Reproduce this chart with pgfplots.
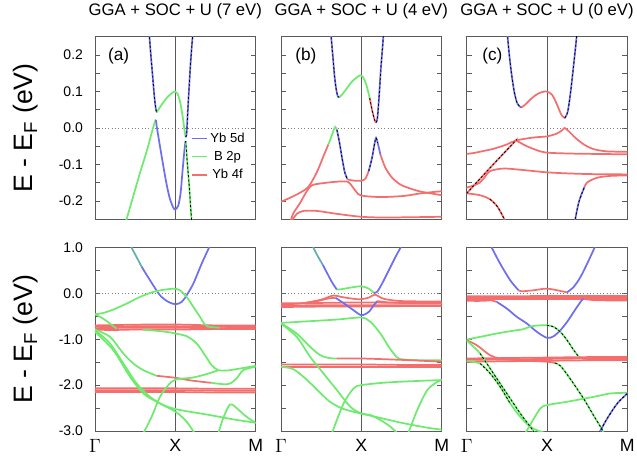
\documentclass[border=0pt]{standalone}
\usepackage{pgfplots}
\pgfplotsset{compat=1.18}
\usepackage{fontspec}
\setmainfont{Liberation Sans}
\definecolor{ybd}{RGB}{110,110,240}
\definecolor{bp}{RGB}{110,235,110}
\definecolor{ybf}{RGB}{245,110,110}
\definecolor{tl}{RGB}{100,175,175}
\definecolor{frm}{RGB}{90,90,90}
\tikzset{plab/.style={font=\fontsize{12.9}{15}\selectfont, anchor=west, inner sep=0pt}}
\pgfplotsset{
  band/.style={line width=1.3pt, smooth, forget plot},
  bD/.style={band, draw=ybd},
  bP/.style={band, draw=bp},
  bF/.style={band, draw=ybf},
  bT/.style={band, draw=tl},
  bK/.style={black, line width=0.6pt, dash pattern=on 1.6pt off 1.6pt, smooth, forget plot},
  refx/.style={draw=frm, line width=0.7pt, forget plot},
  refy/.style={draw=gray, line width=0.5pt, dotted, forget plot},
  panel/.style={scale only axis, width=120.5pt, xmin=0, xmax=2, anchor=north west,
    axis line style={draw=frm, line width=0.7pt},
    xtick=\empty, ytick pos=both, tick align=inside,
    major tick length=3.75pt, minor tick length=3.75pt,
    every tick/.style={draw=frm, line width=0.6pt},
    yticklabel style={font=\fontsize{10.5}{12}\selectfont, xshift=-5.5pt,
      /pgf/number format/fixed, /pgf/number format/fixed zerofill,
      /pgf/number format/precision=1, /pgf/number format/assume math mode=true},
    ylabel style={font=\fontsize{20}{22}\selectfont, at={(axis description cs:-0.429,0.5)}, anchor=center},
  },
  top/.style={panel, height=137pt, ymin=-0.25, ymax=0.25,
    ytick={-0.2,-0.1,0,0.1,0.2}, minor ytick={-0.15,-0.05,0.05,0.15},
    title style={font=\fontsize{12.5}{14}\selectfont, at={(0.5,1)}, anchor=center, yshift=13pt}},
  bot/.style={panel, height=137.8pt, ymin=-3, ymax=1,
    ytick={-3,-2,-1,0,1}, minor ytick={-2.5,-1.5,-0.5,0.5},
    xtick={0,1,2}, xticklabels={$\Gamma$,X,M}, xtick style={draw=none},
    xticklabel style={font=\fontsize{13.3}{15}\selectfont, yshift=-2.8pt}},
}
\begin{document}
\begin{tikzpicture}
\path[use as bounding box] (0,0) rectangle (477.75pt,-345pt);

% ---------- top (a): U = 7 eV
\begin{axis}[top, at={(71.25pt,-27.5pt)}, title={GGA + SOC + U (7 eV)},
  ylabel={E - E\textsubscript{F} (eV)},
  legend style={at={(0.6,0.49)}, anchor=north west, draw=none, fill=none,
    font=\fontsize{9.8}{11}\selectfont, row sep=1.2pt, inner sep=0pt},
  legend image code/.code={\draw[#1, line width=1.1pt] (0pt,0pt) -- (11pt,0pt);}]
\addplot[refy] coordinates {(0,0) (2,0)};
\addplot[refx] coordinates {(1,-0.25) (1,0.25)};
\addplot[bP] coordinates {(0.38,-0.26) (0.477,-0.186) (0.560,-0.123) (0.643,-0.064) (0.705,-0.014) (0.747,0.018) (0.76,0.022)};
\addplot[bD] coordinates {(0.76,0.022) (0.768,0.005) (0.809,-0.05) (0.851,-0.105) (0.892,-0.155) (0.934,-0.195) (0.975,-0.218) (1.0,-0.223) (1.037,-0.212) (1.066,-0.177) (1.091,-0.114) (1.112,-0.064) (1.126,-0.036)};
\addplot[bP] coordinates {(1.126,-0.036) (1.133,-0.045) (1.149,-0.095) (1.170,-0.15) (1.187,-0.205) (1.205,-0.26)};
\addplot[bD] coordinates {(0.674,0.26) (0.697,0.195) (0.718,0.141) (0.739,0.086) (0.759,0.05) (0.772,0.043)};
\addplot[bP] coordinates {(0.772,0.043) (0.788,0.05) (0.830,0.064) (0.892,0.082) (0.954,0.095) (0.996,0.1) (1.025,0.095) (1.058,0.073) (1.091,0.032) (1.116,-0.009) (1.129,-0.025)};
\addplot[bD] coordinates {(1.129,-0.025) (1.141,-0.014) (1.154,0.041) (1.170,0.105) (1.187,0.168) (1.203,0.218) (1.219,0.26)};
\addplot[bK] coordinates {(0.674,0.26) (0.697,0.195) (0.718,0.141) (0.739,0.086) (0.759,0.05) (0.772,0.043)};
\addplot[bK] coordinates {(1.129,-0.025) (1.141,-0.014) (1.154,0.041) (1.170,0.105) (1.187,0.168) (1.203,0.218) (1.219,0.26)};
\addplot[bK] coordinates {(1.126,-0.036) (1.133,-0.045) (1.149,-0.095) (1.170,-0.15) (1.187,-0.205) (1.205,-0.26)};
\addlegendimage{draw=ybd}\addlegendentry{Yb 5d}
\addlegendimage{draw=bp}\addlegendentry{B 2p}
\addlegendimage{draw=ybf}\addlegendentry{Yb 4f}
\node[plab] at (rel axis cs:0.08,0.894) {(a)};
\end{axis}

% ---------- top (b): U = 4 eV
\begin{axis}[top, at={(210.75pt,-27.5pt)}, title={GGA + SOC + U (4 eV)}, yticklabels={}]
\addplot[refy] coordinates {(0,0) (2,0)};
\addplot[refx] coordinates {(1,-0.25) (1,0.25)};
\addplot[bD] coordinates {(0.62,0.26) (0.646,0.195) (0.667,0.141) (0.688,0.105) (0.708,0.086) (0.725,0.084)};
\addplot[bP] coordinates {(0.725,0.084) (0.758,0.091) (0.821,0.109) (0.883,0.127) (0.946,0.139) (0.988,0.144) (1.021,0.139) (1.063,0.118) (1.104,0.082)};
\addplot[bF] coordinates {(1.104,0.082) (1.138,0.045) (1.167,0.021) (1.183,0.015)};
\addplot[bD] coordinates {(1.183,0.015) (1.2,0.027) (1.221,0.086) (1.242,0.159) (1.263,0.218) (1.277,0.26)};
\addplot[bF] coordinates {(0,-0.202) (0.113,-0.191) (0.238,-0.177) (0.342,-0.161) (0.446,-0.121) (0.529,-0.077) (0.59,-0.045)};
\addplot[bP] coordinates {(0.59,-0.045) (0.613,-0.032) (0.654,-0.007) (0.675,0.003) (0.696,-0.005)};
\addplot[bD] coordinates {(0.696,-0.005) (0.729,-0.041) (0.763,-0.086) (0.796,-0.123) (0.829,-0.141)};
\addplot[bF] coordinates {(0.829,-0.141) (0.904,-0.144) (1.0,-0.144) (1.05,-0.139) (1.092,-0.118)};
\addplot[bD] coordinates {(1.092,-0.118) (1.133,-0.082) (1.163,-0.045) (1.183,-0.027) (1.204,-0.041) (1.238,-0.073)};
\addplot[bF] coordinates {(1.238,-0.073) (1.3,-0.109) (1.383,-0.136) (1.488,-0.155) (1.613,-0.166) (1.738,-0.174) (1.863,-0.179) (2,-0.184)};
\addplot[bF] coordinates {(0.115,-0.26) (0.15,-0.235) (0.238,-0.205) (0.321,-0.173) (0.383,-0.157) (0.488,-0.152) (0.696,-0.147) (0.829,-0.147) (0.883,-0.159) (0.938,-0.175) (1.0,-0.185) (1.238,-0.189) (1.529,-0.186) (1.738,-0.179) (2,-0.173)};
\addplot[bF] coordinates {(0.12,-0.26) (0.16,-0.245) (0.196,-0.235) (0.279,-0.227) (0.446,-0.227) (0.696,-0.235) (1.0,-0.243) (1.321,-0.245) (2,-0.243)};
\addplot[bK] coordinates {(0.62,0.26) (0.646,0.195) (0.667,0.141) (0.688,0.105) (0.708,0.086) (0.725,0.084)};
\addplot[bK] coordinates {(1.104,0.082) (1.138,0.045) (1.167,0.021) (1.183,0.015)};
\addplot[bK] coordinates {(1.183,0.015) (1.2,0.027) (1.221,0.086) (1.242,0.159) (1.263,0.218) (1.277,0.26)};
\addplot[bK] coordinates {(0.696,-0.005) (0.729,-0.041) (0.763,-0.086) (0.796,-0.123) (0.829,-0.141)};
\addplot[bK] coordinates {(1.092,-0.118) (1.133,-0.082) (1.163,-0.045) (1.183,-0.027) (1.204,-0.041)};
\node[plab] at (rel axis cs:0.0875,0.894) {(b)};
\end{axis}

% ---------- top (c): U = 0 eV
\begin{axis}[top, at={(350pt,-27.5pt)}, title={GGA + SOC + U (0 eV)}, yticklabels={}]
\addplot[refy] coordinates {(0,0) (2,0)};
\addplot[refx] coordinates {(1,-0.25) (1,0.25)};
\addplot[bD] coordinates {(0.505,0.26) (0.533,0.195) (0.563,0.141) (0.596,0.095) (0.633,0.066) (0.679,0.056)};
\addplot[bF] coordinates {(0.679,0.056) (0.729,0.064) (0.813,0.082) (0.896,0.095) (0.992,0.1) (1.063,0.091) (1.125,0.064) (1.179,0.036) (1.221,0.027)};
\addplot[bD] coordinates {(1.221,0.027) (1.258,0.045) (1.292,0.095) (1.325,0.159) (1.354,0.218) (1.373,0.26)};
\addplot[bF] coordinates {(0,-0.071) (0.1,-0.068) (0.208,-0.063) (0.333,-0.057) (0.5,-0.045) (0.616,-0.034) (0.833,-0.026) (1.0,-0.023) (1.125,-0.015) (1.188,-0.006) (1.221,0.0) (1.271,-0.009) (1.354,-0.027) (1.458,-0.045) (1.583,-0.058) (1.75,-0.064) (2,-0.065)};
\addplot[bF] coordinates {(0,-0.179) (0.15,-0.143) (0.3,-0.107) (0.45,-0.072) (0.6,-0.037) (0.616,-0.034)};
\addplot[bF] coordinates {(0.616,-0.034) (0.68,-0.042) (0.75,-0.05) (0.916,-0.064) (1.04,-0.068) (1.3,-0.07) (1.6,-0.071) (2,-0.072)};
\addplot[bF] coordinates {(0,-0.163) (0.08,-0.158) (0.166,-0.149) (0.23,-0.133) (0.29,-0.118) (0.458,-0.111) (0.7,-0.115) (1.04,-0.122) (1.5,-0.126) (2,-0.127)};
\addplot[bF] coordinates {(0,-0.179) (0.166,-0.184) (0.29,-0.195) (0.375,-0.213) (0.4375,-0.236) (0.49,-0.26)};
\addplot[bD] coordinates {(1.35,-0.26) (1.354,-0.247) (1.395,-0.204) (1.4375,-0.177) (1.47,-0.16)};
\addplot[bF] coordinates {(1.47,-0.16) (1.5,-0.149) (1.625,-0.136) (1.8,-0.131) (2,-0.13)};
\addplot[bK] coordinates {(0.505,0.26) (0.533,0.195) (0.563,0.141) (0.596,0.095) (0.633,0.066) (0.679,0.056)};
\addplot[bK] coordinates {(1.221,0.027) (1.258,0.045) (1.292,0.095) (1.325,0.159) (1.354,0.218) (1.373,0.26)};
\addplot[bK] coordinates {(0,-0.179) (0.15,-0.143) (0.3,-0.107) (0.45,-0.072) (0.6,-0.037) (0.616,-0.034)};
\addplot[bK] coordinates {(0.29,-0.195) (0.375,-0.213) (0.4375,-0.236) (0.49,-0.26)};
\addplot[bK] coordinates {(1.35,-0.26) (1.354,-0.247) (1.395,-0.204) (1.4375,-0.177) (1.47,-0.16)};
\node[plab] at (rel axis cs:0.096,0.894) {(c)};
\end{axis}

% ---------- bottom (a)
\begin{axis}[bot, at={(71.25pt,-185.5pt)}, ylabel={E - E\textsubscript{F} (eV)}]
\addplot[refy] coordinates {(0,0) (2,0)};
\addplot[refx] coordinates {(1,-3) (1,1)};
\addplot[bF] coordinates {(0,-0.70) (0.3,-0.69) (0.7,-0.68) (1,-0.68) (1.5,-0.70) (2,-0.70)};
\addplot[bF] coordinates {(0,-0.73) (0.5,-0.72) (1,-0.72) (1.5,-0.73) (2,-0.72)};
\addplot[bF] coordinates {(0,-0.76) (0.5,-0.75) (1,-0.75) (1.5,-0.76) (2,-0.75)};
\addplot[bF] coordinates {(0,-0.79) (0.2,-0.80) (0.5,-0.79) (1,-0.79) (1.5,-0.78) (2,-0.78)};
\addplot[bF] coordinates {(0,-2.07) (0.5,-2.07) (1,-2.07) (1.5,-2.08) (2,-2.08)};
\addplot[bF] coordinates {(0,-2.11) (0.5,-2.11) (1,-2.11) (1.5,-2.12) (2,-2.12)};
\addplot[bF] coordinates {(0,-2.15) (0.5,-2.15) (1,-2.15) (1.5,-2.16) (2,-2.16)};
\addplot[bT] coordinates {(0.45,1.05) (0.456,0.993) (0.52,0.78) (0.58,0.58)};
\addplot[bD] coordinates {(0.58,0.58) (0.685,0.283) (0.809,-0.043) (0.913,-0.188) (1.004,-0.239) (1.079,-0.188) (1.141,-0.043) (1.224,0.21) (1.328,0.645) (1.419,0.993) (1.43,1.05)};
\addplot[bP] coordinates {(0,-0.457) (0.104,-0.428) (0.228,-0.355) (0.394,-0.225) (0.56,-0.08) (0.726,0.029) (0.871,0.08) (1.004,0.101) (1.058,0.065) (1.141,-0.08) (1.224,-0.297) (1.307,-0.514) (1.369,-0.681) (1.43,-0.73) (1.55,-0.75)};
\addplot[bP] coordinates {(0,-0.457) (0.1,-0.55) (0.2,-0.68) (0.27,-0.77)};
\addplot[bP] coordinates {(0,-0.79) (0.187,-0.949) (0.353,-1.312) (0.477,-1.529) (0.602,-1.674) (0.768,-1.797)};
\addplot[bF] coordinates {(0.768,-1.797) (1.004,-1.841) (1.2,-1.90) (1.45,-1.95)};
\addplot[bP] coordinates {(1.45,-1.95) (1.60,-1.98) (1.68,-1.965) (1.763,-1.855) (1.846,-1.674) (2,-1.60)};
\addplot[bP] coordinates {(0.6,-0.80) (0.685,-0.804) (0.892,-0.841) (1.004,-0.877) (1.141,-0.935) (1.266,-1.094) (1.369,-1.348) (1.452,-1.565) (1.535,-1.674) (1.65,-1.68) (1.8,-1.64) (2,-1.58)};
\addplot[bP] coordinates {(0.602,-3.05) (0.705,-2.688) (0.809,-2.254) (0.913,-2.0) (1.004,-1.877) (1.2,-1.84) (1.35,-1.78) (1.494,-1.70) (1.535,-1.674)};
\addplot[bP] coordinates {(0,-0.804) (0.187,-1.094) (0.353,-1.529) (0.519,-1.964) (0.685,-2.254) (0.851,-2.435) (1.004,-2.522) (1.183,-2.58) (1.432,-2.652) (1.722,-2.746) (2,-2.819)};
\addplot[bP] coordinates {(0,-0.841) (0.228,-1.239) (0.436,-1.819) (0.602,-2.181) (0.768,-2.362) (1.004,-2.58) (1.141,-2.797) (1.24,-3.05)};
\addplot[bP] coordinates {(1.535,-3.05) (1.6,-2.7) (1.68,-2.42) (1.75,-2.48) (1.88,-2.68) (2,-2.82)};
\end{axis}

% ---------- bottom (b)
\begin{axis}[bot, at={(210.75pt,-185.5pt)}, yticklabels={}]
\addplot[refy] coordinates {(0,0) (2,0)};
\addplot[refx] coordinates {(1,-3) (1,1)};
\addplot[bF] coordinates {(0,-0.22) (0.5,-0.21) (1,-0.20) (1.5,-0.21) (2,-0.22)};
\addplot[bF] coordinates {(0,-0.27) (0.5,-0.26) (1,-0.26) (1.5,-0.26) (2,-0.26)};
\addplot[bF] coordinates {(0,-0.30) (0.5,-0.29) (1,-0.29) (1.5,-0.28) (2,-0.28)};
\addplot[bF] coordinates {(0.3,-0.21) (0.5,-0.14) (0.65,-0.05) (0.75,-0.08) (0.9,-0.12) (1.0,-0.13) (1.1,-0.09) (1.17,-0.03) (1.28,-0.12) (1.5,-0.17) (2,-0.18)};
\addplot[bF] coordinates {(0,-1.55) (0.5,-1.55) (1,-1.55) (1.5,-1.56) (2,-1.56)};
\addplot[bF] coordinates {(0,-1.60) (0.5,-1.60) (1,-1.60) (1.5,-1.60) (2,-1.60)};
\addplot[bT] coordinates {(0.40,1.05) (0.404,0.993) (0.46,0.80) (0.52,0.62)};
\addplot[bD] coordinates {(0.52,0.62) (0.633,0.246) (0.696,0.08)};
\addplot[bP] coordinates {(0.696,0.08) (0.758,0.09) (0.863,0.123) (1.0,0.152) (1.092,0.101) (1.154,0.01)};
\addplot[bD] coordinates {(1.154,0.01) (1.196,0.029) (1.258,0.21) (1.342,0.5) (1.425,0.79) (1.488,0.993) (1.50,1.05)};
\addplot[bF] coordinates {(0,-0.25) (0.25,-0.22) (0.45,-0.17) (0.6,-0.11) (0.68,-0.1)};
\addplot[bD] coordinates {(0.68,-0.1) (0.8,-0.239) (0.904,-0.37) (1.0,-0.478) (1.092,-0.406) (1.154,-0.261) (1.2,-0.17)};
\addplot[bF] coordinates {(1.2,-0.17) (1.35,-0.20) (1.6,-0.21) (2,-0.21)};
\addplot[bP] coordinates {(0,-0.645) (0.279,-0.616) (0.696,-0.572) (1.0,-0.529) (1.113,-0.623) (1.238,-0.877) (1.342,-1.167) (1.446,-1.399) (1.529,-1.442) (1.738,-1.457) (2,-1.457)};
\addplot[bP] coordinates {(0,-0.65) (0.196,-0.877) (0.363,-1.167) (0.488,-1.348) (0.6,-1.41) (0.696,-1.42)};
\addplot[bF] coordinates {(0.696,-1.42) (1.0,-1.42) (1.5,-1.45) (2,-1.49)};
\addplot[bP] coordinates {(0,-0.66) (0.196,-0.949) (0.363,-1.384) (0.529,-1.746) (0.696,-2.109) (0.863,-2.471) (1.0,-2.616) (1.113,-2.652) (1.238,-2.761) (1.363,-2.906) (1.45,-3.05)};
\addplot[bP] coordinates {(0,-1.60) (0.15,-1.65) (0.3,-1.85) (0.45,-2.1) (0.6,-2.35) (0.75,-2.5) (0.9,-2.58) (1.0,-2.62) (1.2,-2.70) (1.5,-2.82) (1.8,-2.92) (2,-2.97)};
\addplot[bP] coordinates {(0.633,-3.05) (0.779,-2.399) (0.904,-2.072) (1.0,-2.0) (1.321,-1.942) (1.738,-1.906) (2,-1.891)};
\addplot[bP] coordinates {(1.583,-3.05) (1.696,-2.543) (1.821,-2.109) (1.946,-1.928) (2,-1.891)};
\end{axis}

% ---------- bottom (c)
\begin{axis}[bot, at={(350pt,-185.5pt)}, yticklabels={}]
\addplot[refy] coordinates {(0,0) (2,0)};
\addplot[refx] coordinates {(1,-3) (1,1)};
\addplot[bF] coordinates {(0,-0.065) (0.5,-0.065) (1,-0.06) (1.5,-0.06) (2,-0.06)};
\addplot[bF] coordinates {(0,-0.10) (0.5,-0.10) (1,-0.095) (1.5,-0.095) (2,-0.095)};
\addplot[bF] coordinates {(0,-0.13) (0.5,-0.13) (1,-0.13) (1.5,-0.13) (2,-0.13)};
\addplot[bF] coordinates {(0,-0.165) (0.2,-0.165) (0.3,-0.15)};
\addplot[bF] coordinates {(1.45,-0.12) (1.6,-0.15) (2,-0.16)};
\addplot[bF] coordinates {(0,-1.42) (0.5,-1.41) (1,-1.40) (1.5,-1.39) (2,-1.39)};
\addplot[bF] coordinates {(0,-1.45) (0.5,-1.44) (1,-1.43) (1.5,-1.42) (2,-1.42)};
\addplot[bF] coordinates {(0,-1.49) (0.5,-1.48) (1,-1.47) (1.5,-1.46) (2,-1.46)};
\addplot[bD] coordinates {(0.30,1.05) (0.3125,0.993) (0.417,0.645) (0.542,0.283) (0.646,0.065)};
\addplot[bF] coordinates {(0.646,0.065) (0.688,0.043) (0.833,0.065) (1.0,0.101) (1.167,0.05) (1.25,0.02)};
\addplot[bD] coordinates {(1.25,0.02) (1.333,0.14) (1.417,0.355) (1.5,0.645) (1.592,0.993) (1.60,1.05)};
\addplot[bF] coordinates {(0.3,-0.15) (0.375,-0.188)};
\addplot[bD] coordinates {(0.375,-0.188) (0.5,-0.333) (0.625,-0.514) (0.75,-0.659) (0.875,-0.841) (1.0,-0.971) (1.083,-0.935) (1.167,-0.804) (1.25,-0.623) (1.333,-0.406) (1.417,-0.188) (1.45,-0.12)};
\addplot[bP] coordinates {(0,-1.007) (0.208,-0.935) (0.417,-0.862) (0.625,-0.804) (0.708,-0.78) (0.8,-0.72) (0.9,-0.70) (1.0,-0.696) (1.083,-0.732) (1.167,-0.841) (1.25,-1.022) (1.333,-1.239) (1.396,-1.384)};
\addplot[bF] coordinates {(1.396,-1.384) (1.5,-1.43) (2,-1.45)};
\addplot[bF] coordinates {(0,-1.022) (0.125,-1.13) (0.292,-1.35) (0.417,-1.42) (0.625,-1.46) (1.0,-1.49) (1.1,-1.52)};
\addplot[bP] coordinates {(1.1,-1.52) (1.167,-1.58) (1.292,-1.87) (1.458,-2.3) (1.583,-2.67) (1.6875,-2.97) (1.70,-3.05)};
\addplot[bP] coordinates {(0,-1.03) (0.167,-1.312) (0.333,-1.746) (0.5,-2.181) (0.667,-2.616) (0.792,-2.906) (0.85,-3.05)};
\addplot[bP] coordinates {(0,-1.48) (0.167,-1.53) (0.292,-1.746) (0.417,-2.036) (0.542,-2.399) (0.667,-2.688) (0.792,-2.906) (0.9,-3.0) (1.0,-3.05)};
\addplot[bP] coordinates {(0.729,-3.05) (0.813,-2.797) (0.917,-2.507) (1.0,-2.435) (1.25,-2.362) (1.583,-2.254) (1.792,-2.181) (2,-2.167)};
\addplot[bD] coordinates {(1.646,-3.05) (1.75,-2.725) (1.875,-2.399) (2,-2.181)};
\addplot[bK] coordinates {(1.0,-0.696) (1.083,-0.732) (1.167,-0.841) (1.25,-1.022) (1.333,-1.239) (1.396,-1.384)};
\addplot[bK] coordinates {(1.1,-1.52) (1.167,-1.58) (1.292,-1.87) (1.458,-2.3) (1.583,-2.67) (1.6875,-2.97) (1.70,-3.05)};
\addplot[bK] coordinates {(0.167,-1.312) (0.333,-1.746) (0.5,-2.181) (0.667,-2.616) (0.792,-2.906) (0.85,-3.05)};
\addplot[bK] coordinates {(0.167,-1.53) (0.292,-1.746) (0.417,-2.036) (0.542,-2.399)};
\addplot[bK] coordinates {(1.646,-3.05) (1.75,-2.725) (1.875,-2.399) (2,-2.181)};
\end{axis}
\end{tikzpicture}
\end{document}
